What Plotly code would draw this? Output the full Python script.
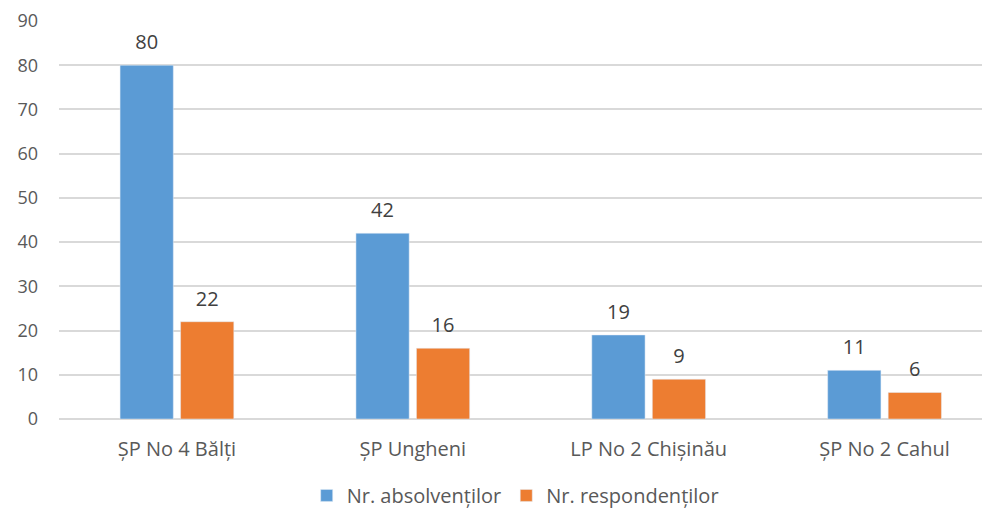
import plotly.graph_objects as go

categories = ["ȘP No 4 Bălți", "ȘP Ungheni", "LP No 2 Chișinău", "ȘP No 2 Cahul"]
absolventi = [80, 42, 19, 11]
respondenti = [22, 16, 9, 6]

font_family = "Open Sans, Noto Sans, sans-serif"
colors = ["#5B9BD5", "#ED7D31"]
names = ["Nr. absolvenților", "Nr. respondenților"]

fig = go.Figure()
for i, vals in enumerate([absolventi, respondenti]):
    fig.add_trace(go.Bar(x=categories, y=vals, name=names[i], marker_color=colors[i],
                         offsetgroup=str(i)))
# data labels, lifted a bit above the bars
for i, vals in enumerate([absolventi, respondenti]):
    fig.add_trace(go.Scatter(x=categories, y=vals, mode="markers+text", text=vals,
                             textposition="top center", offsetgroup=str(i),
                             marker=dict(size=16, opacity=0), showlegend=False,
                             textfont=dict(size=20, color="#404040"), cliponaxis=False,
                             hoverinfo="skip"))

# page body has an 8px margin, so the figure is 8px smaller;
# the original chart is cropped on the right, hence the short x range
fig.update_layout(
    width=982, height=504,
    margin=dict(l=50.5, r=0, t=13, b=93, autoexpand=False),
    plot_bgcolor="white", paper_bgcolor="white",
    font=dict(family=font_family, size=18, color="#595959"),
    barmode="group", bargap=0.487, bargroupgap=0.12,
    scattermode="group", scattergap=0.487,
    legend=dict(orientation="h", x=0.49, xanchor="center", y=-0.192, yanchor="middle",
                font=dict(size=20, color="#595959"), itemwidth=30),
    xaxis=dict(range=[-0.5, 3.447], showgrid=False, showline=False, ticks="",
               tickfont=dict(size=20), automargin=False, ticklabelstandoff=16),
    yaxis=dict(range=[0, 90], dtick=10, showgrid=True, gridcolor="#D9D9D9", gridwidth=1.5,
               zeroline=True, zerolinecolor="#D9D9D9", zerolinewidth=1.5,
               showline=False, ticks="", tickfont=dict(size=18), ticklabelstandoff=20,
               automargin=False),
)

fig.write_html("out.html")
